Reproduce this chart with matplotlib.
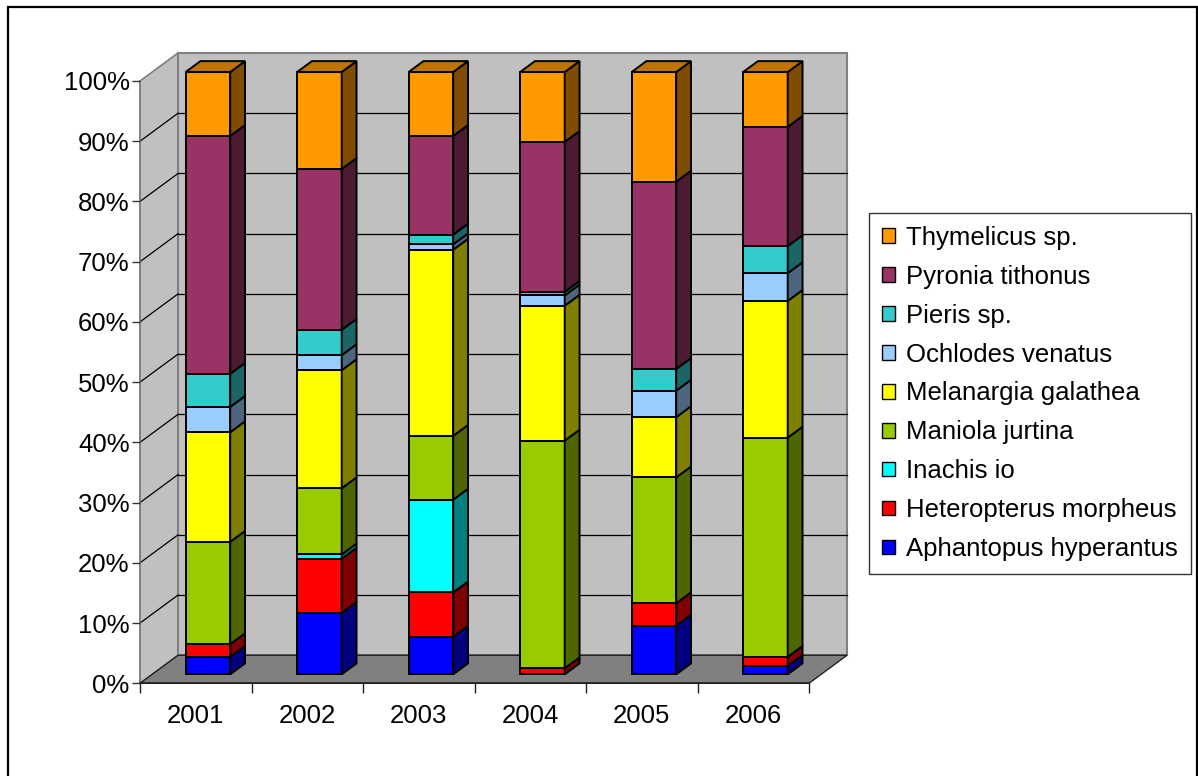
import numpy as np
import matplotlib
matplotlib.use("Agg")
import matplotlib.pyplot as plt
from matplotlib.patches import Polygon, Rectangle, Patch
from matplotlib.colors import to_rgb

plt.rcParams['font.family'] = ['Liberation Sans', 'DejaVu Sans']

years = ['2001', '2002', '2003', '2004', '2005', '2006']
species = ['Aphantopus hyperantus', 'Heteropterus morpheus', 'Inachis io',
           'Maniola jurtina', 'Melanargia galathea', 'Ochlodes venatus',
           'Pieris sp.', 'Pyronia tithonus', 'Thymelicus sp.']
aphantopus   = [2.9, 10.2, 6.25, 0.0, 8.1, 1.4]
heteropterus = [2.1, 9.0, 7.35, 1.0, 3.7, 1.5]
inachis      = [0.0, 0.7, 15.4, 0.0, 0.0, 0.0]
maniola      = [17.0, 11.0, 10.6, 37.8, 20.9, 36.4]
melanargia   = [18.2, 19.6, 30.9, 22.4, 10.0, 22.7]
ochlodes     = [4.2, 2.5, 0.9, 1.7, 4.4, 4.6]
pieris       = [5.5, 4.2, 1.6, 0.6, 3.6, 4.5]
pyronia      = [39.5, 26.7, 16.4, 24.9, 31.1, 19.8]
thymelicus   = [10.6, 16.1, 10.6, 11.6, 18.2, 9.1]
series = [aphantopus, heteropterus, inachis, maniola, melanargia,
          ochlodes, pieris, pyronia, thymelicus]
colors = ['#0000FF', '#FF0000', '#00FFFF', '#99CC00', '#FFFF00',
          '#99CCFF', '#33CCCC', '#993366', '#FF9900']

W, H = 1198, 776
fig = plt.figure(figsize=(W / 100, H / 100), dpi=100)
# front plane of the 3-D box
L, R, B, T = 140, 809, 683.3, 81
ax = fig.add_axes([L / W, (H - B) / H, (R - L) / W, (B - T) / H])
n = len(years)
ax.set_xlim(0, n)
ax.set_ylim(0, 100)
ax.patch.set_visible(False)

# depth offsets (data units) for the full box depth
DX = 38 / ((R - L) / n)
DY = 28 / ((B - T) / 100)
f0, fd = 0.32, 0.39          # bar front depth and bar depth (fractions)
bw = 0.4

def shade(c, f):
    r, g, b = to_rgb(c)
    return (r * f, g * f, b * f)

wall = '#C0C0C0'
edge_gray = '#808080'
# left wall
ax.add_patch(Polygon([(0, 0), (0, 100), (DX, 100 + DY), (DX, DY)], closed=True,
                     facecolor=wall, edgecolor=edge_gray, lw=1.2, clip_on=False, zorder=0))
# back wall
ax.add_patch(Rectangle((DX, DY), n, 100, facecolor=wall, edgecolor=edge_gray,
                       lw=1.5, clip_on=False, zorder=0))
# floor
ax.add_patch(Polygon([(0, 0), (n, 0), (n + DX, DY), (DX, DY)], closed=True,
                     facecolor='#808080', edgecolor='#222222', lw=1.0, clip_on=False, zorder=0.5))
# gridlines
for v in range(10, 100, 10):
    ax.plot([DX, n + DX], [v + DY, v + DY], color='black', lw=0.9, clip_on=False, zorder=0.6)
    ax.plot([0, DX], [v, v + DY], color='black', lw=0.9, clip_on=False, zorder=0.6)

data = np.array(series, dtype=float)
data = data / data.sum(axis=0) * 100
x = np.arange(n) + 0.5 + f0 * DX
ox, oy = f0 * DX, f0 * DY
ddx, ddy = fd * DX, fd * DY
lw = 1.4
cum = np.zeros(n)
nser = len(series)
for k in range(nser):
    vals = data[k]
    for i in range(n):
        v = vals[i]
        if v <= 0:
            continue
        y0 = cum[i] + oy
        y1 = y0 + v
        xl = x[i] - bw / 2
        xr = x[i] + bw / 2
        ax.bar(x[i], v, bw, bottom=y0, color=colors[k], edgecolor='black',
               linewidth=lw, clip_on=False, zorder=2)
        ax.add_patch(Polygon([(xr, y0), (xr, y1), (xr + ddx, y1 + ddy), (xr + ddx, y0 + ddy)],
                             closed=True, facecolor=shade(colors[k], 0.5), edgecolor='black',
                             lw=lw, clip_on=False, zorder=2))
        if k == nser - 1:
            ax.add_patch(Polygon([(xl, y1), (xr, y1), (xr + ddx, y1 + ddy), (xl + ddx, y1 + ddy)],
                                 closed=True, facecolor=shade(colors[k], 0.75), edgecolor='black',
                                 lw=lw, clip_on=False, zorder=2))
    cum += vals

# axes / ticks
for s in ['top', 'right']:
    ax.spines[s].set_visible(False)
ax.spines['left'].set_color(edge_gray)
ax.spines['left'].set_linewidth(1.2)
ax.spines['bottom'].set_color('#222222')
ax.spines['bottom'].set_linewidth(1.2)
ax.spines['left'].set_zorder(1)
ax.spines['bottom'].set_zorder(1)

fs = 18.5
ax.set_yticks(np.arange(0, 101, 10))
ax.set_yticklabels([f'{v}%' for v in range(0, 101, 10)], fontsize=fs)
ax.tick_params(axis='y', direction='out', length=6, width=1, color='#333333', pad=1.5)
ax.set_xticks(np.arange(0, n + 1))
ax.set_xticklabels([])
ax.set_xticks(np.arange(n) + 0.5, minor=True)
ax.set_xticklabels(years, minor=True, fontsize=fs)
ax.tick_params(axis='x', which='major', direction='out', length=7, width=1, color='#222222')
ax.tick_params(axis='x', which='minor', length=0, pad=15)

# legend
handles = [Patch(facecolor=colors[k], edgecolor='black', linewidth=1.0, label=species[k])
           for k in range(nser - 1, -1, -1)]
leg = fig.legend(handles=handles, loc='upper left',
                 bbox_to_anchor=(869 / W, (H - 213) / H), frameon=True, fancybox=False,
                 fontsize=fs, handlelength=0.5, handleheight=0.5, handletextpad=0.45,
                 labelspacing=0.58, borderpad=0.5, borderaxespad=0)
leg.get_frame().set_edgecolor('black')
leg.get_frame().set_linewidth(1.0)

# outer chart border
fig.add_artist(Rectangle((8 / W, -0.01), (1196.5 - 8) / W, (H - 7) / H + 0.01,
                         transform=fig.transFigure, fill=False, edgecolor='black', lw=1.6))

fig.savefig('out.png', dpi=100)
